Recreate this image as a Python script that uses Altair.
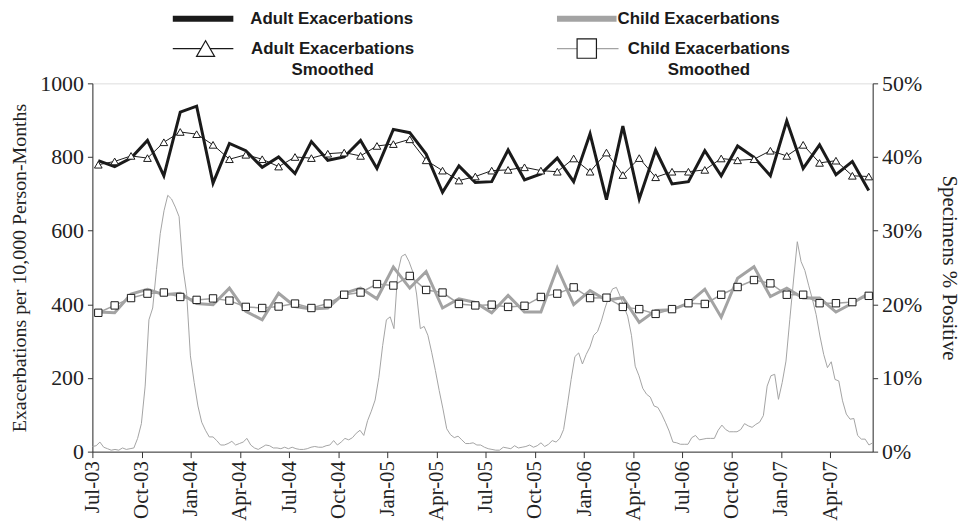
import json
import altair as alt
import pandas as pd

# ---------------- data ----------------
quarter_labels = ["Jul-03", "Oct-03", "Jan-04", "Apr-04", "Jul-04", "Oct-04", "Jan-05", "Apr-05",
                  "Jul-05", "Oct-05", "Jan-06", "Apr-06", "Jul-06", "Oct-06", "Jan-07", "Apr-07"]

# monthly values Jul-03 .. Jun-07 (48 months)
adult_raw = [790, 774, 797, 845, 749, 922, 938, 729, 837, 817, 772, 800,
             755, 842, 791, 800, 845, 769, 875, 866, 808, 704, 776, 731,
             733, 819, 738, 754, 797, 733, 863, 684, 884, 686, 819, 727,
             733, 817, 749, 830, 799, 749, 898, 769, 833, 752, 788, 709]
adult_smooth = [779, 788, 803, 797, 840, 868, 862, 833, 794, 806, 794, 774,
                800, 797, 809, 812, 803, 830, 835, 848, 791, 763, 736, 747,
                763, 765, 772, 763, 760, 796, 760, 812, 751, 797, 745, 760,
                760, 765, 796, 791, 794, 817, 803, 833, 784, 790, 749, 747]
child_raw = [379, 377, 428, 441, 426, 430, 402, 399, 444, 381, 358, 430,
             394, 387, 390, 430, 444, 415, 501, 444, 489, 390, 415, 405,
             377, 424, 379, 379, 499, 399, 437, 411, 418, 351, 383, 385,
             403, 441, 365, 471, 502, 421, 444, 417, 417, 379, 403, 430]
child_smooth = [377, 397, 417, 429, 432, 420, 412, 416, 410, 393, 390, 394,
                402, 390, 402, 426, 432, 455, 451, 477, 439, 432, 401, 397,
                399, 393, 396, 420, 429, 446, 417, 418, 393, 387, 374, 387,
                403, 401, 426, 447, 466, 457, 426, 426, 403, 403, 406, 423]

# weekly specimens % positive, starting first week of Jul-03 (208 weeks)
specimen_pct = [
    0.7, 0.8, 1.3, 0.6, 0.4, 0.2, 0.3, 0.2, 0.5, 0.3, 0.4, 0.5,
    1.8, 3.8, 8.9, 17.9, 19.5, 24.7, 29.6, 32.7, 34.8, 34.3, 33.2, 31.9,
    25.1, 21.5, 13.0, 9.4, 6.2, 4.0, 2.9, 2.0, 2.0, 1.5, 0.9, 0.9,
    1.1, 1.4, 0.9, 1.1, 1.3, 1.8, 0.9, 0.5, 0.3, 0.6, 0.9, 0.8, 0.5, 0.5, 0.4, 0.6,
    0.4, 0.6, 0.4, 0.3, 0.3, 0.4, 0.6, 0.7, 0.6, 0.6, 0.8, 0.9,
    1.5, 0.9, 1.3, 1.8, 1.6, 1.9, 2.5, 2.9, 2.2, 4.2, 5.5, 7.0,
    10.1, 14.4, 17.9, 18.3, 16.7, 24.3, 26.5, 26.8, 25.8, 24.4, 21.4, 16.7,
    17.0, 15.8, 13.5, 11.0, 8.3, 5.8, 3.1, 2.3, 1.9, 2.1, 1.6, 1.1,
    1.1, 1.2, 0.9, 0.9, 0.6,
    0.4, 0.3, 0.2, 0.2, 0.6, 0.5, 0.4, 0.8, 0.5, 0.6, 0.7, 0.9,
    0.6, 0.8, 1.2, 0.7, 1.0, 1.5, 1.3, 1.8, 3.0, 6.3, 9.8, 12.9,
    13.4, 11.9, 13.2, 14.2, 15.8, 16.3, 17.7, 19.5, 21.0, 22.1, 22.3, 21.1,
    19.7, 18.4, 15.8, 11.6, 10.3, 8.6, 7.8, 7.4, 6.2, 6.0, 5.1, 4.0,
    2.8, 1.3, 1.2, 1.0, 1.0,
    1.0, 1.9, 2.2, 1.6, 1.7, 1.8, 1.8, 1.8, 2.9, 3.6, 3.0, 2.7,
    2.7, 2.7, 3.0, 3.8, 3.5, 3.3, 3.7, 4.0, 4.9, 8.9, 10.3, 10.5,
    7.1, 9.4, 12.3, 17.9, 23.3, 28.5, 25.8, 24.6, 22.6, 20.7, 18.6, 15.7,
    13.2, 11.4, 12.2, 9.8, 9.6, 6.9, 5.1, 4.4, 4.5, 2.2, 1.7, 1.7, 0.9, 1.2,
]

# x position in months since 1 Jul 2003 (monthly values plotted ~11th of month)
monthly = pd.DataFrame({
    "m": [i + 0.36 for i in range(len(adult_raw))],
    "adult": adult_raw,
    "adult_s": adult_smooth,
    "child": child_raw,
    "child_s": child_smooth,
})
weekly = pd.DataFrame({
    "m": [w * 7 / 30.44 for w in range(len(specimen_pct))],
    "pct": specimen_pct,
})

SERIF = "Liberation Serif"
SANS = "Liberation Sans"
BLACK = "#1a1a1a"
GRAY = "#a3a3a3"

xscale = alt.Scale(domain=[0, 47.6], nice=False, zero=False)
x_axis = alt.Axis(
    values=list(range(0, 48, 3)),
    labelExpr=json.dumps(quarter_labels) + "[round(datum.value/3)]",
    labelAngle=-90, labelAlign="right", labelBaseline="middle",
    labelFont=SERIF, labelFontSize=21, labelColor="#222", labelPadding=3,
    tickSize=6, tickColor="#333", domainColor="#333", grid=False, title=None,
)
X = alt.X("m:Q", scale=xscale, axis=x_axis)
Xn = alt.X("m:Q", scale=xscale)
yscale = alt.Scale(domain=[0, 1000], nice=False)

left_axis = alt.Axis(
    orient="left", values=[0, 200, 400, 600, 800, 1000], format="d", grid=False,
    labelFont=SERIF, labelFontSize=22, labelColor="#222", labelPadding=4,
    tickSize=5, tickColor="#333", domainColor="#333",
    title="Exacerbations per 10,000 Person-Months",
    titleFont=SERIF, titleFontSize=20, titleFontWeight="normal", titleColor="#222",
    titlePadding=10,
)

mbase = alt.Chart(monthly)
YL = alt.Y("child:Q", scale=yscale, axis=left_axis)

child_line = mbase.mark_line(color=GRAY, strokeWidth=3).encode(x=Xn, y=YL)
child_s_line = mbase.mark_line(color=GRAY, strokeWidth=1.5).encode(
    x=Xn, y=alt.Y("child_s:Q", scale=yscale))
child_s_pts = mbase.mark_point(shape="square", filled=True, fill="white",
                               stroke=BLACK, strokeWidth=1, size=55, opacity=1).encode(
    x=Xn, y=alt.Y("child_s:Q", scale=yscale))
adult_line = mbase.mark_line(color=BLACK, strokeWidth=3).encode(
    x=Xn, y=alt.Y("adult:Q", scale=yscale))
adult_s_line = mbase.mark_line(color=BLACK, strokeWidth=1).encode(
    x=Xn, y=alt.Y("adult_s:Q", scale=yscale))
adult_s_pts = mbase.mark_point(shape="triangle-up", filled=True, fill="white",
                               stroke=BLACK, strokeWidth=1, size=60, opacity=1).encode(
    x=Xn, y=alt.Y("adult_s:Q", scale=yscale))

left_group = alt.layer(child_line, child_s_line, child_s_pts,
                       adult_line, adult_s_line, adult_s_pts)

right_axis = alt.Axis(
    orient="right", values=[0, 10, 20, 30, 40, 50], grid=False,
    labelExpr="datum.value + '%'",
    labelFont=SERIF, labelFontSize=22, labelColor="#222", labelPadding=4,
    tickSize=5, tickColor="#333", domainColor="#333",
    title="Specimens % Positive",
    titleFont=SERIF, titleFontSize=21, titleFontWeight="normal", titleColor="#222",
    titlePadding=17,
)
spec_line = alt.Chart(weekly).mark_line(color=GRAY, strokeWidth=1).encode(
    x=X, y=alt.Y("pct:Q", scale=alt.Scale(domain=[0, 50], nice=False), axis=right_axis))

# ---------------- legend (drawn above the plot) ----------------
one = pd.DataFrame({"k": [0]})


def lrule(x1, x2, y, color, w):
    return alt.Chart(one).mark_rule(color=color, strokeWidth=w).encode(
        x=alt.value(x1), x2=alt.value(x2), y=alt.value(y))


def ltext(txt, x, y, align):
    return alt.Chart(one).mark_text(text=txt, font=SANS, fontSize=17, fontWeight="bold",
                                     color=BLACK, align=align, baseline="middle").encode(
        x=alt.value(x), y=alt.value(y))


legend = [
    lrule(81, 142, -65, BLACK, 6),
    ltext("Adult Exacerbations", 159, -65, "left"),
    lrule(468, 528, -65, GRAY, 6),
    ltext("Child Exacerbations", 529, -65, "left"),
    lrule(81, 142, -35, BLACK, 1.2),
    alt.Chart(one).mark_point(shape="triangle-up", filled=True, fill="white", stroke=BLACK,
                              strokeWidth=1.2, size=330, opacity=1).encode(
        x=alt.value(114), y=alt.value(-35)),
    ltext("Adult Exacerbations", 242, -35, "center"),
    ltext("Smoothed", 242, -13, "center"),
    lrule(468, 530, -35, GRAY, 1.2),
    alt.Chart(one).mark_point(shape="square", filled=True, fill="white", stroke=BLACK,
                              strokeWidth=1.2, size=380, opacity=1).encode(
        x=alt.value(498), y=alt.value(-35)),
    ltext("Child Exacerbations", 621, -35, "center"),
    ltext("Smoothed", 621, -13, "center"),
]

chart = alt.layer(spec_line, left_group, *legend).resolve_scale(y="independent").properties(
    width=786, height=371,
    autosize=alt.AutoSizeParams(type="none"),
    padding={"left": 85, "top": 74, "right": 92, "bottom": 71},
).configure_view(stroke="#666", strokeWidth=1).configure(background="white")

chart.save("out.html", embed_options={"renderer": "svg", "actions": False})
